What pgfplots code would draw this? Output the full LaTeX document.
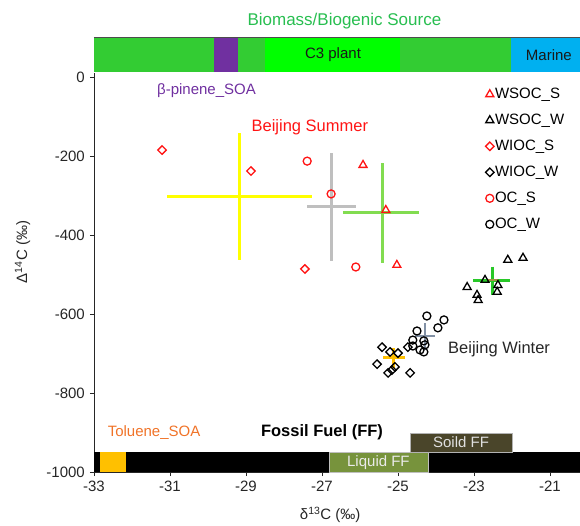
\documentclass[border=0pt]{standalone}
\usepackage{fontspec}
\setmainfont{Liberation Sans}
\usepackage{pgfplots}
\pgfplotsset{compat=1.18}
\definecolor{bandgreen}{RGB}{51,204,51}
\definecolor{cthree}{RGB}{0,255,0}
\definecolor{bpurple}{RGB}{112,48,160}
\definecolor{marine}{RGB}{0,176,240}
\definecolor{titlegreen}{RGB}{40,190,80}
\definecolor{tolorange}{RGB}{240,115,40}
\definecolor{tolblock}{RGB}{255,192,0}
\definecolor{liquid}{RGB}{119,147,60}
\definecolor{soild}{RGB}{74,69,42}
\definecolor{cyel}{RGB}{255,255,0}
\definecolor{cgray}{RGB}{191,191,191}
\definecolor{clgreen}{RGB}{130,220,80}
\definecolor{cgreen}{RGB}{40,200,40}
\definecolor{corange}{RGB}{255,192,0}
\definecolor{cblue}{RGB}{130,145,165}
\definecolor{colive}{RGB}{160,150,70}
\definecolor{mred}{RGB}{255,20,20}
\begin{document}
\fontsize{15}{18}\selectfont
\begin{tikzpicture}[x=1pt,y=1pt]
\useasboundingbox (-94,-53) rectangle (486,472);
\begin{axis}[
  at={(0,0)}, anchor=south west,
  scale only axis, width=486pt, height=395pt,
  xmin=-33, xmax=-20.21, ymin=-1000, ymax=0,
  axis x line=bottom, axis y line=left,
  axis line style={-, line width=0.9pt, black!85},
  xtick={-33,-31,...,-21}, ytick={-1000,-800,...,0},
  tick align=outside, major tick length=4pt,
  tick style={black!85, line width=0.8pt},
  ticklabel style={font=\fontsize{15}{18}\selectfont, text=black!85},
  /pgf/number format/assume math mode=true,
  /pgf/number format/1000 sep={},
  xlabel={δ\textsuperscript{13}C (‰)},
  ylabel={Δ\textsuperscript{14}C (‰)},
  xlabel style={at={(axis description cs:0.486,-0.109)}, anchor=center, font=\fontsize{15}{18}\selectfont, text=black!85},
  ylabel style={at={(axis description cs:-0.147,0.557)}, anchor=center, font=\fontsize{15}{18}\selectfont, text=black!85},
  clip=false,
  legend style={at={(axis cs:-22.78,-18)}, anchor=north west, draw=none, fill=none,
    font=\fontsize{15}{18}\selectfont,
    nodes={inner sep=1pt, text height=11pt, text depth=3pt},
    row sep=10pt, column sep=0pt},
  legend cell align=left,
  legend image code/.code={\draw[mark repeat=2,mark phase=2,#1] plot coordinates {(0pt,0pt)(4pt,0pt)(8pt,0pt)};},
  every axis plot/.append style={line width=1.3pt},
]
% top band
\fill[bandgreen] (axis cs:-33,12) rectangle (axis cs:-29.84,100);
\fill[bpurple] (axis cs:-29.84,12) rectangle (axis cs:-29.21,100);
\fill[bandgreen] (axis cs:-29.21,12) rectangle (axis cs:-28.5,100);
\fill[cthree] (axis cs:-28.5,12) rectangle (axis cs:-24.95,100);
\fill[bandgreen] (axis cs:-24.95,12) rectangle (axis cs:-22.03,100);
\fill[marine] (axis cs:-22.03,12) rectangle (axis cs:-20.21,100);
\draw[black!70, line width=0.8pt] (axis cs:-33,100) -- (axis cs:-20.21,100);
\draw[black!85, line width=0.9pt] (axis cs:-33,0) -- (axis cs:-33,10);
\node[text=black!90] at (axis cs:-26.71,56) {C3 plant};
\node[text=black!90] at (axis cs:-21.03,56) {Marine};
\node[text=titlegreen, font=\fontsize{17}{20}\selectfont] at (axis cs:-26.41,142) {Biomass/Biogenic Source};
% bottom band
\fill[black] (axis cs:-33,-1000) rectangle (axis cs:-20.21,-950);
\fill[tolblock] (axis cs:-32.84,-1000) rectangle (axis cs:-32.16,-950);
\filldraw[fill=liquid, draw=black!25, line width=0.6pt] (axis cs:-26.82,-1000) rectangle (axis cs:-24.21,-950);
\node[text=white!92!black] at (axis cs:-25.515,-975) {Liquid FF};
\filldraw[fill=soild, draw=black!30, line width=0.6pt] (axis cs:-24.68,-949) rectangle (axis cs:-22.0,-901);
\node[text=white!88!black] at (axis cs:-23.34,-925) {Soild FF};
\node[text=tolorange] at (axis cs:-31.42,-899) {Toluene\_SOA};
\node[font=\fontsize{16.5}{19}\selectfont\bfseries] at (axis cs:-27.0,-899) {Fossil Fuel (FF)};
% labels
\node[text=bpurple] at (axis cs:-30.04,-35) {β-pinene\_SOA};
\node[text=mred, font=\fontsize{16.5}{19}\selectfont] at (axis cs:-27.32,-127) {Beijing Summer};
\node[text=black!85, font=\fontsize{16.5}{19}\selectfont] at (axis cs:-22.34,-689) {Beijing Winter};
% summer crosses
\addplot[cyel, line width=3pt, forget plot] coordinates {(-31.08,-303) (-27.26,-303)};
\addplot[cyel, line width=3pt, forget plot] coordinates {(-29.16,-142) (-29.16,-463)};
\addplot[cgray, line width=3pt, forget plot] coordinates {(-27.39,-329) (-26.11,-329)};
\addplot[cgray, line width=3pt, forget plot] coordinates {(-26.74,-193) (-26.74,-466)};
\addplot[clgreen, line width=3pt, forget plot] coordinates {(-26.45,-344) (-24.45,-344)};
\addplot[clgreen, line width=3pt, forget plot] coordinates {(-25.42,-218) (-25.42,-471)};
% winter crosses under circles
\addplot[cblue, line width=2.5pt, forget plot] coordinates {(-24.29,-623) (-24.29,-690)};
\addplot[cblue, line width=2.5pt, forget plot] coordinates {(-24.55,-656) (-24.03,-656)};
% data
\addplot[only marks, mred, mark=triangle, mark size=4.6pt] coordinates {
(-25.92,-223) (-25.32,-337) (-25.03,-476)};
\addlegendentry{WSOC\_S}
\addplot[only marks, black, mark=triangle, mark size=4.6pt] coordinates {
(-22.11,-463) (-21.71,-458) (-23.18,-532) (-22.71,-514) (-22.37,-527) (-22.39,-544) (-22.92,-552) (-22.89,-565)};
\addlegendentry{WSOC\_W}
\addplot[only marks, mred, mark=square, mark size=3pt, mark options={rotate=45}] coordinates {
(-31.21,-185) (-28.87,-238) (-27.45,-486)};
\addlegendentry{WIOC\_S}
\addplot[only marks, black, mark=square, mark size=3pt, mark options={rotate=45}] coordinates {
(-25.42,-684) (-25.21,-696) (-25.0,-699) (-24.74,-684) (-25.55,-727) (-25.08,-734) (-25.26,-749) (-24.68,-749) (-25.16,-742)};
\addlegendentry{WIOC\_W}
\addplot[only marks, mred, mark=o, mark size=4pt] coordinates {
(-27.39,-213) (-26.76,-296) (-26.11,-481)};
\addlegendentry{OC\_S}
\addplot[only marks, black, mark=o, mark size=4pt] coordinates {
(-24.24,-605) (-23.79,-615) (-23.95,-635) (-24.5,-643) (-24.61,-666) (-24.32,-668) (-24.29,-678) (-24.61,-681) (-24.42,-691) (-24.32,-696)};
\addlegendentry{OC\_W}
% winter crosses on top
\addplot[cgreen, line width=3pt, forget plot] coordinates {(-23.02,-514) (-22.05,-514)};
\addplot[cgreen, line width=3pt, forget plot] coordinates {(-22.52,-480) (-22.52,-552)};
\addplot[colive, line width=2pt, forget plot] coordinates {(-22.66,-514) (-22.38,-514)};
\addplot[corange, line width=3pt, forget plot] coordinates {(-25.39,-711) (-24.82,-711)};
\addplot[corange, line width=3pt, forget plot] coordinates {(-25.11,-686) (-25.11,-737)};
\end{axis}
\end{tikzpicture}
\end{document}
